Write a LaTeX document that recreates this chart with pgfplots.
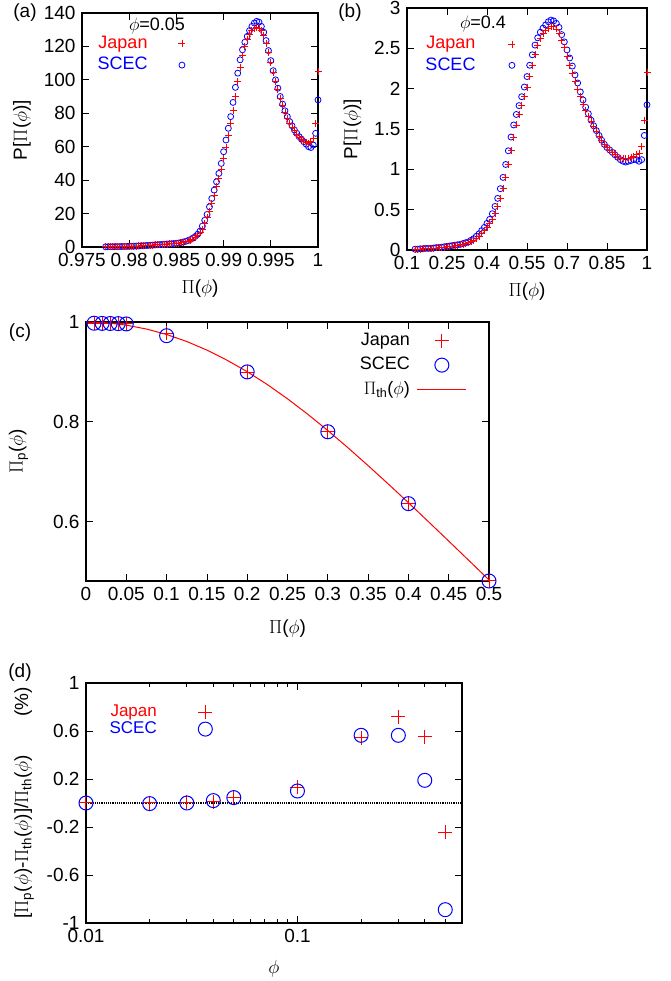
\RequirePackage{fix-cm}
\documentclass[border=0pt]{standalone}
\usepackage{amsmath}
\usepackage{fontspec}
\setmainfont{Liberation Sans}
\usepackage{pgfplots}
\pgfplotsset{compat=1.18}
\usepackage{pgfplotstable}

\definecolor{jred}{RGB}{255,0,0}
\definecolor{sblue}{RGB}{0,0,255}

\pgfplotstableread{
x j s
0.97750 0.10 0.10
0.97775 0.10 0.10
0.97800 0.15 0.15
0.97825 0.15 0.15
0.97850 0.20 0.20
0.97875 0.20 0.20
0.97900 0.25 0.25
0.97925 0.30 0.30
0.97950 0.30 0.30
0.97975 0.35 0.35
0.98000 0.40 0.40
0.98025 0.45 0.45
0.98050 0.50 0.50
0.98075 0.55 0.55
0.98100 0.60 0.60
0.98125 0.70 0.70
0.98150 0.75 0.75
0.98175 0.85 0.85
0.98200 0.95 0.95
0.98225 1.05 1.05
0.98250 1.15 1.15
0.98275 1.25 1.25
0.98300 1.35 1.35
0.98325 1.45 1.45
0.98350 1.55 1.55
0.98375 1.65 1.65
0.98400 1.75 1.75
0.98425 1.85 1.85
0.98450 1.95 1.95
0.98475 2.05 2.05
0.98500 2.1 2.2
0.98525 2.3 2.4
0.98550 2.5 2.7
0.98575 2.8 3.0
0.98600 3.2 3.4
0.98625 3.6 3.9
0.98650 4.1 4.5
0.98675 4.8 5.3
0.98700 5.7 6.3
0.98725 6.8 7.6
0.98750 8.4 9.5
0.98775 10.7 12.5
0.98800 13.9 16
0.98825 17.4 19.5
0.98850 21.3 24
0.98875 26 29
0.98900 31 34
0.98925 36 39
0.98950 41 44
0.98975 46.4 50
0.99000 52.8 57
0.99025 59.8 64
0.99050 66.8 71
0.99075 73.8 78
0.99100 81.4 86.5
0.99125 90.1 95.5
0.99150 98.9 104
0.99175 107.2 112
0.99200 114.4 118
0.99225 119.8 122.5
0.99250 123.9 126
0.99275 127.4 129.5
0.99300 129.5 132
0.99325 131 134
0.99350 131.5 135
0.99375 131 134.5
0.99400 129.5 132
0.99425 126.5 128.5
0.99450 122 123.5
0.99475 116.5 117.5
0.99500 110.5 111.5
0.99525 104.5 105.5
0.99550 99 100
0.99575 94 95
0.99600 89 90
0.99625 84.5 85.5
0.99650 80.5 81.5
0.99675 77 78
0.99700 74 75
0.99725 71.5 72.5
0.99750 69.5 70
0.99775 67.5 68
0.99800 65.5 66
0.99825 64.5 64.5
0.99850 63.5 63
0.99875 62.5 61.5
0.99900 62 60
0.99925 63 59.5
0.99950 65 61
0.99975 74 68
1.00000 105 88
}\tabA

\pgfplotstableread{
x j s
0.13 0.010 0.010
0.14 0.010 0.010
0.15 0.010 0.015
0.16 0.015 0.015
0.17 0.015 0.020
0.18 0.020 0.020
0.19 0.020 0.020
0.20 0.020 0.025
0.21 0.025 0.030
0.22 0.030 0.030
0.23 0.030 0.035
0.24 0.035 0.040
0.25 0.040 0.045
0.26 0.045 0.050
0.27 0.050 0.055
0.28 0.055 0.060
0.29 0.060 0.065
0.30 0.065 0.070
0.31 0.070 0.080
0.32 0.080 0.090
0.33 0.090 0.100
0.34 0.100 0.120
0.35 0.120 0.140
0.36 0.140 0.170
0.37 0.170 0.200
0.38 0.200 0.240
0.39 0.240 0.280
0.40 0.280 0.330
0.41 0.330 0.380
0.42 0.380 0.450
0.43 0.450 0.540
0.44 0.540 0.640
0.45 0.640 0.760
0.46 0.760 0.900
0.47 0.900 1.060
0.48 1.060 1.230
0.49 1.230 1.400
0.50 1.400 1.550
0.51 1.550 1.680
0.52 1.680 1.790
0.53 1.790 1.900
0.54 1.900 2.020
0.55 2.020 2.150
0.56 2.150 2.290
0.57 2.290 2.420
0.58 2.420 2.540
0.59 2.540 2.630
0.60 2.620 2.700
0.61 2.680 2.750
0.62 2.720 2.790
0.63 2.750 2.830
0.64 2.770 2.850
0.65 2.770 2.840
0.66 2.740 2.810
0.67 2.680 2.760
0.68 2.600 2.670
0.69 2.510 2.580
0.70 2.400 2.480
0.71 2.290 2.380
0.72 2.190 2.280
0.73 2.090 2.170
0.74 1.990 2.070
0.75 1.900 1.960
0.76 1.810 1.860
0.77 1.730 1.770
0.78 1.660 1.690
0.79 1.590 1.610
0.80 1.530 1.540
0.81 1.470 1.480
0.82 1.410 1.420
0.83 1.360 1.360
0.84 1.310 1.310
0.85 1.270 1.270
0.86 1.240 1.240
0.87 1.210 1.210
0.88 1.190 1.180
0.89 1.160 1.150
0.90 1.140 1.120
0.91 1.130 1.100
0.92 1.130 1.090
0.93 1.140 1.100
0.94 1.150 1.110
0.95 1.160 1.120
0.96 1.180 1.120
0.97 1.200 1.100
0.98 1.280 1.120
0.99 1.600 1.420
1.00 2.200 1.800
}\tabB

\pgfplotstableread{
phi j s
0.01 0.9975 0.9975
0.02 0.9972 0.9972
0.03 0.9970 0.9970
0.04 0.9968 0.9967
0.05 0.9962 0.9961
0.10 0.9770 0.9725
0.20 0.8990 0.9000
0.30 0.7812 0.7800
0.40 0.6365 0.6360
0.50 0.4810 0.4810
}\tabC

\pgfplotstableread{
phi th
0.000 1.0000
0.025 0.9984
0.050 0.9937
0.075 0.9859
0.100 0.9750
0.125 0.9609
0.150 0.9437
0.175 0.9234
0.200 0.9004
0.225 0.8746
0.250 0.8461
0.275 0.8153
0.300 0.7825
0.325 0.7480
0.350 0.7122
0.375 0.6754
0.400 0.6379
0.425 0.5996
0.450 0.5610
0.475 0.5221
0.500 0.4831
}\tabTh

\pgfplotstableread{
phi j s
0.01 0.000 0.000
0.02 0.000 -0.005
0.03 0.005 0.000
0.04 0.010 0.020
0.05 0.045 0.045
0.10 0.130 0.100
0.20 0.542 0.564
0.30 0.717 0.564
0.40 0.553 0.189
0.50 -0.242 -0.889
}\tabD

\pgfplotsset{
  every axis/.append style={
    scale only axis,
    axis line style={line width=1.8pt},
    every tick/.style={black, line width=0.8pt},
    major tick length=7pt,
    minor tick length=4pt,
    tick label style={font=\fontsize{19}{22}\selectfont},
    label style={font=\fontsize{19}{22}\selectfont},
    legend style={draw=none, fill=none, font=\fontsize{18}{21}\selectfont, row sep=2pt, column sep=7pt},
    legend cell align=right,
    legend plot pos=right,
  },
  legimg/.style={legend image code/.code={\path (0pt,0pt) (2*#1,0pt); \draw[mark repeat=2,mark phase=2,##1] plot coordinates {(0pt,0pt) (#1,0pt) (2*#1,0pt)};}},
  jsty/.style={only marks, mark=+, color=jred, mark options={draw=jred}, mark size=3.5pt, line width=0.9pt},
  ssty/.style={only marks, mark=o, color=sblue, mark options={draw=sblue}, mark size=3pt, line width=0.8pt},
  jbig/.style={only marks, mark=+, color=jred, mark options={draw=jred}, mark size=7pt, line width=1pt},
  sbig/.style={only marks, mark=o, color=sblue, mark options={draw=sblue}, mark size=7pt, line width=1pt},
}

\begin{document}
\fontsize{19}{22}\selectfont
\begin{tikzpicture}
\useasboundingbox (0pt,0pt) rectangle (670pt,981pt);

% ---------- (a)
\begin{axis}[at={(82pt,734pt)}, anchor=south west, width=236pt, height=234pt,
  xmin=0.975, xmax=1, ymin=0, ymax=140, clip=false,
  xtick={0.975,0.98,0.985,0.99,0.995,1},
  xticklabels={0.975,0.98,0.985,0.99,0.995,1},
  ytick={0,20,40,60,80,100,120,140},
  yticklabels={0,20,40,60,80,100,120,140},
  xlabel={$\Pi$($\phi$)}, ylabel={P[$\Pi$($\phi$)]},
  reverse legend,
  legend style={at={(axis description cs:0.545,0.919)}, anchor=north east}]
\addplot[ssty, legimg=25pt] table[x=x,y=s] {\tabA};
\addplot[jsty, legimg=25pt] table[x=x,y=j] {\tabA};
\legend{\textcolor{sblue}{SCEC},\textcolor{jred}{Japan}}
\end{axis}

% ---------- (b)
\begin{axis}[at={(407pt,731pt)}, anchor=south west, width=240pt, height=242pt,
  xmin=0.1, xmax=1, ymin=0, ymax=3, clip=false,
  xtick={0.1,0.25,0.4,0.55,0.7,0.85,1},
  xticklabels={0.1,0.25,0.4,0.55,0.7,0.85,1},
  ytick={0,0.5,1,1.5,2,2.5,3},
  yticklabels={0,0.5,1,1.5,2,2.5,3},
  xlabel={$\Pi$($\phi$)}, ylabel={P[$\Pi$($\phi$)]},
  reverse legend,
  legend style={at={(axis description cs:0.565,0.90)}, anchor=north east}]
\addplot[ssty, legimg=27pt] table[x=x,y=s] {\tabB};
\addplot[jsty, legimg=27pt] table[x=x,y=j] {\tabB};
\legend{\textcolor{sblue}{SCEC},\textcolor{jred}{Japan}}
\end{axis}

% ---------- (c)
\begin{axis}[at={(86pt,400pt)}, anchor=south west, width=403pt, height=259pt,
  xmin=0, xmax=0.5, ymin=0.481, ymax=1, clip=false,
  xtick={0,0.05,0.1,0.15,0.2,0.25,0.3,0.35,0.4,0.45,0.5},
  xticklabels={0,0.05,0.1,0.15,0.2,0.25,0.3,0.35,0.4,0.45,0.5},
  ytick={0.6,0.8,1}, yticklabels={0.6,0.8,1},
  xlabel={$\Pi$($\phi$)}, ylabel={$\Pi_{\text{p}}$($\phi$)},
  ylabel shift=12pt, xlabel shift=6pt,
  legend style={at={(axis description cs:0.953,0.973)}, anchor=north east, row sep=5pt, column sep=5pt}]
\addplot[jbig, legimg=24.5pt] table[x=phi,y=j] {\tabC};
\addlegendentry{Japan}
\addplot[sbig, legimg=24.5pt] table[x=phi,y=s] {\tabC};
\addlegendentry{SCEC}
\addplot[color=jred, draw=jred, line width=1pt, no marks, legimg=24.5pt] table[x=phi,y=th] {\tabTh};
\addlegendentry{$\Pi_{\text{th}}$($\phi$)}
\end{axis}

% ---------- (d)
\begin{axis}[at={(86pt,58pt)}, anchor=south west, width=376pt, height=240pt,
  xmode=log, xmin=0.01, xmax=0.6, ymin=-1, ymax=1,
  xtick={0.01,0.1}, xticklabels={0.01,0.1},
  minor xtick={0.02,0.03,0.04,0.05,0.06,0.07,0.08,0.09,0.2,0.3,0.4,0.5},
  ytick={-1,-0.6,-0.2,0.2,0.6,1}, yticklabels={-1,-0.6,-0.2,0.2,0.6,1},
  xlabel={$\phi$}, xlabel shift=4pt,
  ylabel={[$\Pi_{\text{p}}$($\phi$)-$\Pi_{\text{th}}$($\phi$)]/$\Pi_{\text{th}}$($\phi$)\qquad(\%)},
  legend style={at={(axis description cs:0.431,0.925)}, anchor=north east, row sep=-2pt, font=\fontsize{17}{20}\selectfont}]
\addplot[jbig, legimg=39pt] table[x=phi,y=j] {\tabD};
\addlegendentry{\textcolor{jred}{Japan}}
\addplot[sbig, legimg=39pt] table[x=phi,y=s] {\tabD};
\addlegendentry{\textcolor{sblue}{SCEC}}
\addplot[black, line width=1.2pt, densely dotted, forget plot] coordinates {(0.01,0) (0.6,0)};
\end{axis}

% panel letters and annotations
\node at (25pt,968pt) {(a)};
\node at (350pt,968pt) {(b)};
\node at (20pt,648pt) {(c)};
\node at (20pt,308pt) {(d)};
\node[font=\fontsize{18}{21}\selectfont] at (157pt,955pt) {$\phi$=0.05};
\node[font=\fontsize{18}{21}\selectfont] at (483pt,957pt) {$\phi$=0.4};
\end{tikzpicture}
\end{document}
